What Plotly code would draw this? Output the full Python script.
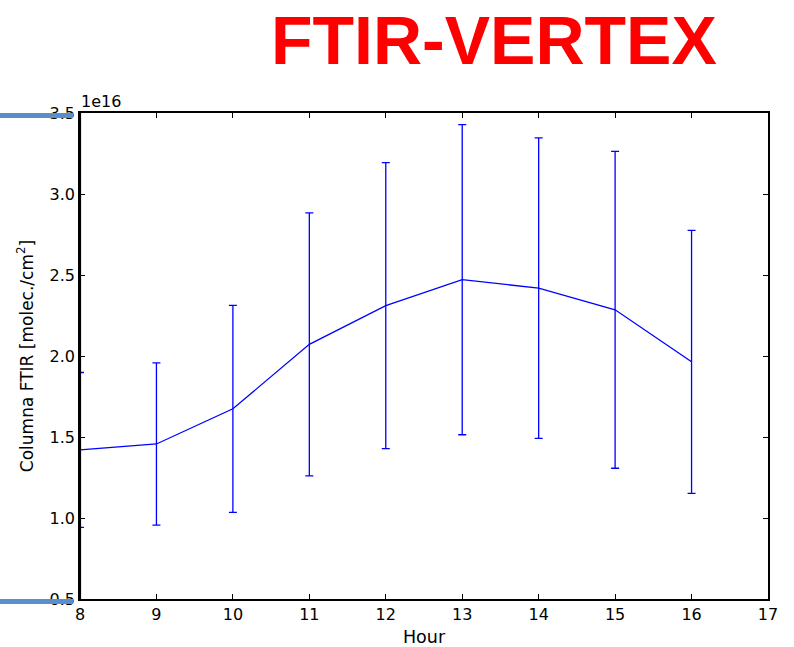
import plotly.graph_objects as go

# Data (units of 1e16 molec/cm^2)
hours = [8, 9, 10, 11, 12, 13, 14, 15, 16]
column_mean = [1.42, 1.457, 1.674, 2.072, 2.311, 2.471, 2.419, 2.285, 1.964]
column_std = [0.478, 0.501, 0.639, 0.812, 0.883, 0.957, 0.928, 0.978, 0.812]

y_ticks = [0.5, 1.0, 1.5, 2.0, 2.5, 3.0, 3.5]
x_ticks = [8, 9, 10, 11, 12, 13, 14, 15, 16, 17]

BLUE = "#0000ff"
FONT = "DejaVu Sans"

fig = go.Figure()
fig.add_trace(go.Scatter(
    x=hours, y=column_mean, mode="lines",
    line=dict(color=BLUE, width=1.3),
    error_y=dict(type="data", array=column_std, visible=True,
                 color=BLUE, thickness=1.3, width=4),
    showlegend=False,
))

axis_common = dict(
    showline=True, linecolor="black", linewidth=1.6, mirror="ticks",
    ticks="inside", ticklen=5, tickcolor="black", tickwidth=1,
    showgrid=False, zeroline=False, layer="above traces", automargin=False,
    tickfont=dict(family=FONT, size=16, color="black"),
)

fig.update_layout(
    width=794, height=647,
    margin=dict(l=80, r=26, t=113, b=48),
    paper_bgcolor="white", plot_bgcolor="white",
    font=dict(family=FONT, color="black"),
    xaxis=dict(range=[8, 17], tickvals=x_ticks,
               ticktext=[str(v) for v in x_ticks],
               title=dict(text="Hour", font=dict(family=FONT, size=17.5), standoff=8),
               **axis_common),
    yaxis=dict(range=[0.5, 3.5], tickvals=y_ticks,
               ticktext=[f"{v:.1f}" for v in y_ticks],
               title=dict(text="Columna FTIR [molec./cm<sup>2</sup>]",
                          font=dict(family=FONT, size=17), standoff=12),
               **axis_common),
)

# Title
fig.add_annotation(
    text="<b>FTIR-VERTEX</b>", xref="paper", yref="paper",
    x=(494 - 80) / 688, y=1 + (113 - 40) / 486, xanchor="center", yanchor="middle",
    showarrow=False, font=dict(family="Liberation Sans", size=68, color="#ff0000"),
)
# Offset label
fig.add_annotation(
    text="1e16", xref="paper", yref="paper", x=0, y=1, xanchor="left", yanchor="bottom",
    xshift=-1, yshift=0, showarrow=False,
    font=dict(family=FONT, size=16, color="black"),
)

# Left axis line drawn over the clipped error bar at hour 8, as in the reference
fig.add_shape(type="line", xref="paper", yref="paper", x0=0, x1=0, y0=0, y1=1,
              line=dict(color="black", width=2.2), layer="above")

# Decorative slide bars on the left
for ytop in [113, 599]:
    fig.add_shape(type="rect", xref="paper", yref="paper",
                  x0=-80 / 688, x1=-7 / 688,
                  y0=1 - (ytop + 5 - 113) / 486, y1=1 - (ytop - 113) / 486,
                  fillcolor="#5b8fc9", line=dict(width=0), layer="above")

fig.write_html("out.html")
